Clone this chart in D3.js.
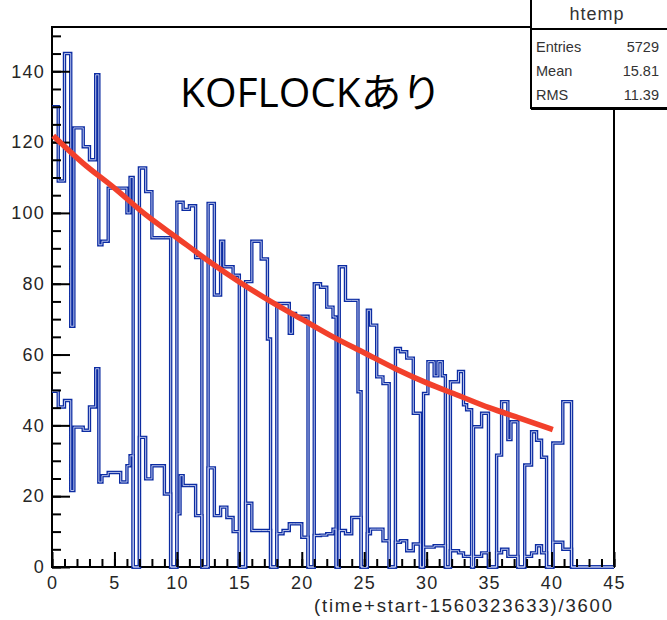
<!DOCTYPE html>
<html>
<head>
<meta charset="utf-8">
<script src="https://cdn.jsdelivr.net/npm/d3@7"></script>
<style>
  html, body { margin: 0; padding: 0; background: #fff; }
  svg { display: block; }
</style>
</head>
<body>
<svg id="chart" width="667" height="620"></svg>
<script>
// Left edge (hours) of each histogram step; a step runs to the next edge.
const stepStart = [0, 0.5, 1.0, 1.5, 1.75, 2.5, 3.0, 3.5, 3.75, 4.0, 4.5, 5.5, 6.0, 6.25, 6.5,
  7.0, 7.5, 8.0, 9.0, 9.5, 10.0, 10.25, 10.5, 11.0, 11.5, 12.0, 12.5, 13.0, 13.5, 13.75,
  14.0, 14.5, 15.0, 15.5, 16.0, 16.75, 17.25, 17.5, 18.0, 18.5, 19.0, 19.25, 19.5, 20.0,
  20.5, 21.0, 21.5, 22.0, 22.5, 22.75, 23.0, 23.5, 24.0, 24.5, 24.75, 25.25, 25.5, 26.0,
  26.5, 27.0, 27.5, 27.9, 28.4, 28.93, 29.5, 29.75, 30.1, 30.6, 30.9, 31.25, 31.5, 31.9,
  32.55, 32.95, 33.2, 33.6, 33.75, 34.4, 34.95, 35.6, 36.0, 36.5, 36.75, 37.3, 37.85,
  38.4, 38.8, 39.2, 39.6, 40.1, 40.9, 41.6];
const histEnd = 45;

// Counts per step, upper trace
const countsHigh = [130, 109, 145, 68, 124, 118.7, 115, 139, 91, 92, 107, 107, 100, 110, 0,
  112.7, 106, 93, 93, 0, 103, 103, 101, 102, 87.4, 0, 102.7, 76.8, 92, 84.8,
  84.8, 82.4, 0, 80.6, 92, 87, 64.4, 0, 74.4, 74.4, 66, 71.6, 70.8, 70.8,
  0, 80, 79, 73.4, 70.6, 0, 84.8, 75.3, 75.3, 49.5, 0, 72.5, 68.3, 53.7,
  51.8, 0, 61.7, 60.8, 59, 43.4, 0, 49, 58, 54, 58, 54, 0, 52.3,
  55.2, 45.8, 44.4, 0, 39.6, 43.4, 0, 31.6, 46.7, 36, 41, 0, 28.8,
  38.2, 35.8, 31, 0, 35, 46.7, 0];

// Counts per step, lower trace
const countsLow = [49.6, 45.2, 47, 21.6, 39.5, 38.6, 45.2, 56, 24, 25.8, 26.7, 24, 28.6, 31.4, 0,
  36.6, 24.9, 28.6, 20.6, 0, 15, 25.8, 23, 23, 14.5, 0, 28, 14.5, 16.9, 16.9,
  14, 10, 0, 18, 10.3, 10.3, 10.3, 0, 9.4, 10.3, 12.2, 12.2, 12.2, 8.4,
  0, 8.9, 9, 9.4, 10.7, 0, 10.3, 9.4, 14, 14, 0, 9.4, 10.7, 10.7,
  7.4, 0, 7, 7.4, 4.6, 6.5, 0, 5.6, 5.6, 6, 6, 6, 0, 4.6,
  4, 3, 3, 0, 3, 4, 0, 4, 5, 3, 3, 0, 3,
  4, 6, 4, 0, 7, 5, 0];

// Fitted decay curve, sampled
const fitX = [0.1, 2.5, 5, 7.5, 10, 12.5, 15, 17.5, 20, 22.5, 25, 27.5, 30, 32.5, 35, 37.5, 40.1];
const fitY = [121.8, 114, 107, 99.5, 93, 86.5, 80.5, 75, 70, 65, 60.5, 56, 52, 48.5, 45, 42, 38.8];

const xTicks = [0, 5, 10, 15, 20, 25, 30, 35, 40, 45];
const yTicks = [0, 20, 40, 60, 80, 100, 120, 140];
const histName = "htemp";
const statLabels = ["Entries", "Mean", "RMS"];
const statValues = ["5729", "15.81", "11.39"];
const titleText = "KOFLOCKあり";
const xTitle = "(time+start-1560323633)/3600";

const svg = d3.select("#chart");
svg.append("rect").attr("width", 667).attr("height", 620).attr("fill", "#fff");

const frame = { left: 52, right: 614, top: 27, bottom: 567 };
const x = d3.scaleLinear().domain([0, 45]).range([frame.left, frame.right]);
const y = d3.scaleLinear().domain([0, 152.5]).range([frame.bottom, frame.top]);
const labelFont = "Liberation Sans, Arial, sans-serif";

// frame
svg.append("rect")
  .attr("x", frame.left).attr("y", frame.top)
  .attr("width", frame.right - frame.left).attr("height", frame.bottom - frame.top)
  .attr("fill", "none").attr("stroke", "#000").attr("stroke-width", 2);

// histogram outlines
const stepLine = d3.line().x(d => x(d[0])).y(d => y(d[1])).curve(d3.curveStepAfter);
function stepPoints(counts) {
  const pts = stepStart.map((s, i) => [s, counts[i]]);
  pts.push([histEnd, 0]);
  return pts;
}
const series = [countsLow, countsHigh];
const hist = svg.append("g");
series.forEach(c => {
  hist.append("path").attr("d", stepLine(stepPoints(c)))
    .attr("fill", "none").attr("stroke", "#0c2ca2").attr("stroke-width", 3.4);
});
series.forEach(c => {
  hist.append("path").attr("d", stepLine(stepPoints(c)))
    .attr("fill", "none").attr("stroke", "#c9d1f2").attr("stroke-width", 0.9);
});

// axis ticks pointing inward
function styleAxis(g) {
  g.select(".domain").remove();
  g.selectAll(".tick line").attr("stroke", "#000").attr("stroke-width", 2);
  g.selectAll(".tick text").attr("fill", "#262626")
    .attr("font-family", labelFont).attr("font-size", 18)
    .attr("letter-spacing", 1.2);
}
svg.append("g").attr("transform", `translate(0,${frame.bottom})`)
  .call(d3.axisBottom(x).tickValues(d3.range(0, 46, 1)).tickSize(-8).tickFormat(""))
  .call(styleAxis);
svg.append("g").attr("transform", `translate(0,${frame.bottom})`)
  .call(d3.axisBottom(x).tickValues(xTicks).tickSize(-15).tickPadding(9).tickFormat(d3.format("d")))
  .call(styleAxis);
svg.append("g").attr("transform", `translate(${frame.left},0)`)
  .call(d3.axisLeft(y).tickValues(d3.range(0, 151, 5)).tickSize(-9).tickFormat(""))
  .call(styleAxis);
svg.append("g").attr("transform", `translate(${frame.left},0)`)
  .call(d3.axisLeft(y).tickValues(yTicks).tickSize(-18).tickPadding(7).tickFormat(d3.format("d")))
  .call(styleAxis);

// fit curve
svg.append("path")
  .attr("d", d3.line().x((d, i) => x(fitX[i])).y(d => y(d)).curve(d3.curveMonotoneX)(fitY))
  .attr("fill", "none").attr("stroke", "#f2402b").attr("stroke-width", 5.5);

// x-axis title
svg.append("text").attr("x", 612).attr("y", 612)
  .attr("text-anchor", "end")
  .attr("font-family", labelFont).attr("font-size", 18.5)
  .attr("fill", "#262626")
  .attr("textLength", 298).attr("lengthAdjust", "spacing")
  .text(xTitle);

// statistics box
const box = svg.append("g");
box.append("rect").attr("x", 531).attr("y", -4).attr("width", 150).attr("height", 112)
  .attr("fill", "#fff").attr("stroke", "#000").attr("stroke-width", 2);
box.append("line").attr("x1", 531).attr("x2", 667).attr("y1", 29).attr("y2", 29)
  .attr("stroke", "#000").attr("stroke-width", 2);
box.append("line").attr("x1", 531).attr("x2", 667).attr("y1", 108.5).attr("y2", 108.5)
  .attr("stroke", "#000").attr("stroke-width", 3);
box.append("text").attr("x", 597).attr("y", 20).attr("text-anchor", "middle")
  .attr("font-family", labelFont).attr("font-size", 18)
  .attr("fill", "#333")
  .attr("letter-spacing", 1)
  .text(histName);
statLabels.forEach((lab, i) => {
  const yy = 52 + i * 24;
  box.append("text").attr("x", 536).attr("y", yy)
    .attr("font-family", labelFont).attr("font-size", 14.5)
    .attr("fill", "#333").text(lab);
  box.append("text").attr("x", 659).attr("y", yy).attr("text-anchor", "end")
    .attr("font-family", labelFont).attr("font-size", 14.5)
    .attr("fill", "#333").text(statValues[i]);
});

// title
svg.append("text").attr("x", 180).attr("y", 107)
  .attr("font-family", "Open Sans, Noto Sans CJK JP, sans-serif").attr("font-size", 40)
  .attr("fill", "#000")
  .attr("textLength", 262).attr("lengthAdjust", "spacingAndGlyphs")
  .text(titleText);
</script>
</body>
</html>
